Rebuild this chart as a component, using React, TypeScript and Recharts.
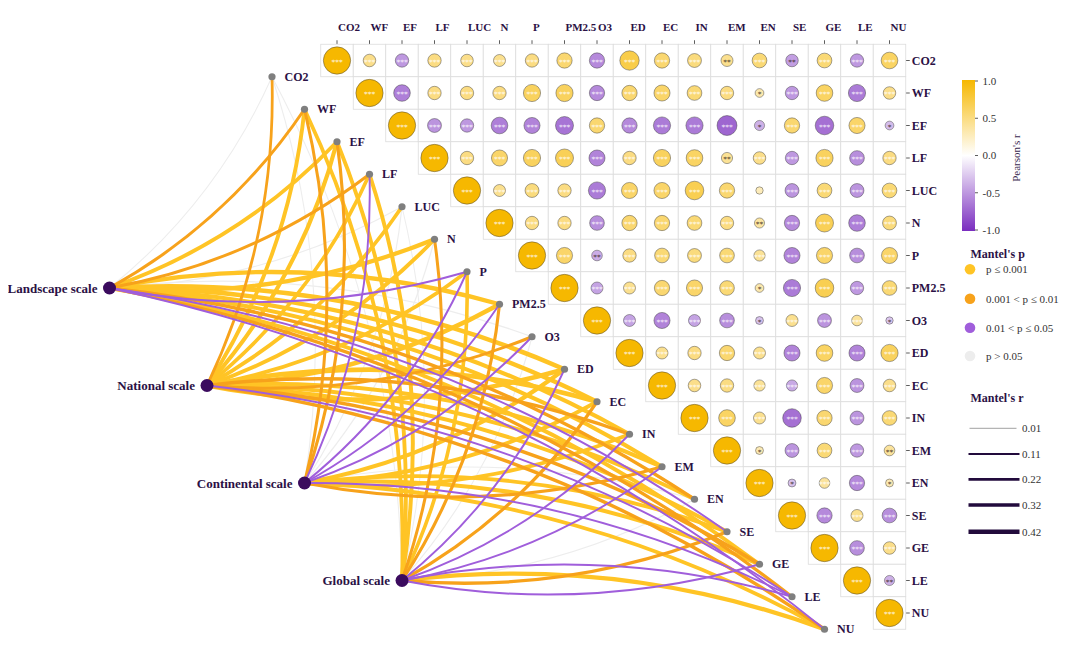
import React from "react";
import { ScatterChart, Scatter, XAxis, YAxis, Customized } from "recharts";

// ---- data ----
const VARS = ["CO2", "WF", "EF", "LF", "LUC", "N", "P", "PM2.5", "O3", "ED", "EC", "IN", "EM", "EN", "SE", "GE", "LE", "NU"];

// Pearson's r, upper triangle: row i holds columns i..17 (diagonal first)
const PEARSON_R: number[][] = [
  [1, 0.46, -0.49, 0.49, 0.46, 0.44, 0.49, 0.56, -0.56, 0.71, 0.56, 0.51, 0.44, 0.54, -0.46, 0.54, -0.49, 0.61],
  [1, -0.61, 0.49, 0.49, 0.49, 0.63, 0.63, -0.56, 0.56, 0.59, 0.54, 0.49, 0.32, -0.49, 0.61, -0.63, 0.46],
  [1, -0.51, -0.49, -0.61, -0.59, -0.66, 0.56, -0.56, -0.63, -0.63, -0.73, -0.37, 0.56, -0.68, 0.59, -0.32],
  [1, 0.49, 0.59, 0.63, 0.66, -0.59, 0.49, 0.63, 0.61, 0.41, 0.46, -0.49, 0.63, -0.54, 0.49],
  [1, 0.44, 0.51, 0.49, -0.63, 0.59, 0.59, 0.68, 0.56, 0.27, -0.51, 0.54, -0.51, 0.54],
  [1, 0.49, 0.49, -0.54, 0.56, 0.56, 0.54, 0.49, 0.37, -0.56, 0.66, -0.61, 0.51],
  [1, 0.59, -0.39, 0.49, 0.54, 0.51, 0.54, 0.41, -0.59, 0.59, -0.54, 0.59],
  [1, -0.44, 0.44, 0.56, 0.59, 0.54, 0.32, -0.63, 0.68, -0.49, 0.54],
  [1, -0.44, -0.59, -0.44, -0.54, -0.29, 0.44, -0.51, 0.39, -0.27],
  [1, 0.44, 0.49, 0.56, 0.44, -0.59, 0.61, -0.59, 0.63],
  [1, 0.46, 0.49, 0.41, -0.41, 0.59, -0.51, 0.46],
  [1, 0.61, 0.44, -0.68, 0.56, -0.51, 0.54],
  [1, 0.29, -0.51, 0.54, -0.49, 0.39],
  [1, -0.29, 0.39, -0.56, 0.29],
  [1, -0.56, 0.44, -0.54],
  [1, -0.54, 0.46],
  [1, -0.37],
  [1],
];

// cells whose significance is not "***": [row, col, stars]
const STAR_NOTES: [number, number, string][] = [
  [0, 12, "**"], [0, 14, "**"], [1, 13, "*"], [2, 13, "*"], [2, 17, "*"], [3, 12, "**"],
  [4, 13, ""], [5, 13, "**"], [6, 8, "**"], [7, 13, "*"], [8, 13, "*"], [8, 17, "*"],
  [12, 13, "*"], [12, 17, "**"], [13, 14, "*"], [13, 17, "*"], [16, 17, "**"],
];

const SCALES = ["Landscape scale", "National scale", "Continental scale", "Global scale"];

// Mantel's p class per target (0: p<=0.001, 1: <=0.01, 2: <=0.05, 3: >0.05)
const LANDSCAPE_P = [3, 1, 0, 1, 3, 0, 2, 0, 3, 0, 0, 0, 0, 1, 2, 0, 1, 2];
const NATIONAL_P = [1, 0, 0, 0, 0, 0, 0, 0, 1, 0, 0, 1, 0, 0, 0, 1, 2, 1];
const CONTINENTAL_P = [3, 1, 1, 2, 3, 3, 2, 2, 2, 0, 0, 0, 1, 3, 0, 0, 2, 0];
const GLOBAL_P = [3, 0, 0, 0, 3, 1, 0, 1, 3, 2, 1, 2, 2, 3, 1, 2, 2, 0];

// Mantel's r per target
const LANDSCAPE_R = [0.02, 0.25, 0.35, 0.25, 0.03, 0.38, 0.12, 0.4, 0.04, 0.42, 0.4, 0.38, 0.36, 0.3, 0.12, 0.35, 0.28, 0.12];
const NATIONAL_R = [0.22, 0.35, 0.38, 0.32, 0.35, 0.36, 0.34, 0.4, 0.25, 0.42, 0.45, 0.3, 0.38, 0.36, 0.36, 0.32, 0.12, 0.3];
const CONTINENTAL_R = [0.02, 0.25, 0.26, 0.12, 0.03, 0.04, 0.12, 0.12, 0.13, 0.38, 0.36, 0.35, 0.28, 0.03, 0.35, 0.38, 0.12, 0.34];
const GLOBAL_R = [0.02, 0.34, 0.35, 0.36, 0.02, 0.25, 0.32, 0.26, 0.03, 0.12, 0.27, 0.12, 0.12, 0.03, 0.28, 0.13, 0.12, 0.4];

const P_LABELS = ["p \u2264 0.001", "0.001 < p \u2264 0.01", "0.01 < p \u2264 0.05", "p > 0.05"];
const MANTEL_R_BREAKS = [0.01, 0.11, 0.22, 0.32, 0.42];
const COLORBAR_TICKS = [1, 0.5, 0, -0.5, -1];

// ---- layout ----
const CHART_W = 1064;
const CHART_H = 650;
const MARGIN = { top: 6.25, right: 106.25, bottom: 2.75, left: 4 };
const X_AXIS_H = 30;
const Y_AXIS_W = 60;
const X_DOMAIN: [number, number] = [-10, 17.5];
const Y_DOMAIN: [number, number] = [-0.5, 18.3];
const CELL = (CHART_W - MARGIN.left - MARGIN.right - Y_AXIS_W) / (X_DOMAIN[1] - X_DOMAIN[0]);
const MAX_RAD = CELL * 0.42;
const BEND = 0.12;
// scale nodes, in grid units
const SCALE_POS = [[-7, 7], [-4, 10], [-1, 13], [2, 16]];

const SERIF = "'Liberation Serif', 'Times New Roman', serif";
const INK = "#2B1145";
const P_COLORS = ["#FFC425", "#F7A21B", "#A05EDB", "#EDEDED"];
const POS = [246, 184, 0];
const NEG = [122, 45, 191];

function pearsonColor(r: number) {
  const t = Math.min(1, Math.abs(r));
  const c = r >= 0 ? POS : NEG;
  const ch = c.map((v) => Math.round(255 + (v - 255) * t));
  return `rgb(${ch[0]},${ch[1]},${ch[2]})`;
}
const widthFor = (r: number) => 0.9 + 8.5 * r;

// ---- derived tables ----
const starMap = new Map(STAR_NOTES.map(([i, j, s]) => [`${i}-${j}`, s]));
const cells = PEARSON_R.flatMap((row, i) =>
  row.map((r, k) => {
    const j = i + k;
    const s = starMap.get(`${i}-${j}`);
    return { x: j, y: i, r, stars: s === undefined ? "***" : s };
  })
);
const endpoints = VARS.map((name, i) => ({ x: i - 2, y: i + 0.5, name }));
const sources = SCALES.map((name, k) => ({ x: SCALE_POS[k][0], y: SCALE_POS[k][1], name }));
const P_SETS = [LANDSCAPE_P, NATIONAL_P, CONTINENTAL_P, GLOBAL_P];
const R_SETS = [LANDSCAPE_R, NATIONAL_R, CONTINENTAL_R, GLOBAL_R];
const DRAW_ORDER = [3, 0, 1, 2];
const links = P_SETS.flatMap((ps, k) =>
  ps.map((p, i) => ({ src: k, tgt: i, p, r: R_SETS[k][i] }))
).sort((a, b) => DRAW_ORDER.indexOf(a.p) - DRAW_ORDER.indexOf(b.p));

// ---- shapes ----
const Empty = () => <g />;

const CellBox = (props: any) => (
  <rect x={props.cx - CELL / 2} y={props.cy - CELL / 2} width={CELL} height={CELL}
    fill="#fff" stroke="#DCDCDC" strokeWidth={0.8} />
);

const CorrDot = (props: any) => {
  const { cx, cy, payload } = props;
  const rad = MAX_RAD * Math.abs(payload.r);
  const triple = payload.stars === "***";
  return (
    <g>
      <circle cx={cx} cy={cy} r={rad} fill={pearsonColor(payload.r)} stroke="#3a3a3a" strokeOpacity={0.75} strokeWidth={0.6} />
      {payload.stars && (
        <text x={cx} y={cy + 4.2} textAnchor="middle" fontSize={7.5} fontFamily="DejaVu Sans, sans-serif"
          fill={triple ? "#ffffff" : "#3A2A1A"} fillOpacity={0.9}>
          {payload.stars}
        </text>
      )}
    </g>
  );
};

const EndDot = (props: any) => (
  <g>
    <circle cx={props.cx} cy={props.cy} r={3.6} fill="#7F7F7F" />
    <text x={props.cx + 12.5} y={props.cy} dy="0.35em" fontSize={12} fontWeight="bold" fontFamily={SERIF} fill={INK}>
      {props.payload.name}
    </text>
  </g>
);

const SourceDot = (props: any) => (
  <g>
    <circle cx={props.cx} cy={props.cy} r={6.5} fill="#3B0B5E" />
    <text x={props.cx - 12} y={props.cy} dy="0.35em" textAnchor="end" fontSize={13} fontWeight="bold" fontFamily={SERIF} fill={INK}>
      {props.payload.name}
    </text>
  </g>
);

function curvePath(points: { x: number; y: number }[]) {
  const [a, b] = points;
  const dx = b.x - a.x;
  const dy = b.y - a.y;
  const len = Math.hypot(dx, dy);
  const side = dy > 0 ? 1 : -1;
  const nx = (side * dy) / len;
  const ny = (side * -dx) / len;
  const mx = (a.x + b.x) / 2 + nx * BEND * len;
  const my = (a.y + b.y) / 2 + ny * BEND * len;
  return `M${a.x},${a.y} Q${mx},${my} ${b.x},${b.y}`;
}

const makeLine = (color: string, w: number) => (lp: any) => (
  <path d={curvePath(lp.points)} fill="none" stroke={color} strokeWidth={w} strokeLinecap="round" />
);

const TopTick = (props: any) => (
  <text x={props.x + 1} y={props.y - 7} textAnchor="start" fontSize={11} fontWeight="bold" fontFamily={SERIF} fill={INK}>
    {VARS[props.payload.value]}
  </text>
);

const RightTick = (props: any) => (
  <text x={props.x} y={props.y} dy="0.35em" textAnchor="start" fontSize={12} fontWeight="bold" fontFamily={SERIF} fill={INK}>
    {VARS[props.payload.value]}
  </text>
);

// legend block, chart pixel coordinates
const LegendPanel = () => {
  const barX = 954, barY = 72, barW = 13, barH = 151;
  const yOf = (v: number) => barY + 1 + ((1 - v) / 2) * (barH - 2);
  const pY = [261.3, 290.7, 319.7, 348];
  const rY = [420.3, 446, 471.3, 497, 523.7];
  return (
    <g fontFamily={SERIF}>
      <defs>
        <linearGradient id="pearsonGrad" x1="0" y1="0" x2="0" y2="1">
          <stop offset="0%" stopColor={pearsonColor(1)} />
          <stop offset="50%" stopColor="#ffffff" />
          <stop offset="100%" stopColor={pearsonColor(-1)} />
        </linearGradient>
      </defs>
      <rect x={barX} y={barY} width={barW} height={barH} fill="url(#pearsonGrad)" />
      {COLORBAR_TICKS.map((v) => (
        <g key={v}>
          <line x1={barX + barW} x2={barX + barW + 3} y1={yOf(v)} y2={yOf(v)} stroke="#333" strokeWidth={0.8} />
          <text x={barX + barW + 7.5} y={yOf(v)} dy="0.35em" fontSize={11} fill="#333">{v.toFixed(1)}</text>
        </g>
      ))}
      <text x={1008} y={150} transform="rotate(-90 1008 150)" textAnchor="middle" dy="0.35em" fontSize={11} fill="#3a2a50">
        Pearson's r
      </text>

      <text x={962.5} y={250} fontSize={12} fontWeight="bold" fill={INK}>Mantel's p</text>
      {P_LABELS.map((lab, k) => (
        <g key={lab}>
          <circle cx={962} cy={pY[k]} r={5.3} fill={P_COLORS[k]} />
          <text x={978} y={pY[k]} dy="0.35em" fontSize={11} fill="#333">{lab}</text>
        </g>
      ))}

      <text x={962.5} y={394} fontSize={12} fontWeight="bold" fill={INK}>Mantel's r</text>
      {MANTEL_R_BREAKS.map((v, k) => (
        <g key={v}>
          <line x1={k === 0 ? 961.5 : 960.5} x2={k === 0 ? 1008.5 : 1011.5} y1={rY[k]} y2={rY[k]}
            stroke={k === 0 ? "#A0A0A0" : "#220B3C"} strokeWidth={widthFor(v)} />
          <text x={1014} y={rY[k]} dy="0.35em" fontSize={11} fill="#333">{v.toFixed(2)}</text>
        </g>
      ))}
    </g>
  );
};

export default function App() {
  return (
    <ScatterChart width={CHART_W} height={CHART_H} margin={MARGIN}>
      <XAxis type="number" dataKey="x" orientation="top" domain={X_DOMAIN} ticks={VARS.map((_, i) => i)}
        height={X_AXIS_H} axisLine={false} tickSize={4} tickLine={{ stroke: "#333", strokeWidth: 0.8 }}
        tick={<TopTick />} interval={0} />
      <YAxis type="number" dataKey="y" orientation="right" domain={Y_DOMAIN} reversed ticks={VARS.map((_, i) => i)}
        width={Y_AXIS_W} axisLine={false} tickSize={4} tickLine={{ stroke: "#333", strokeWidth: 0.8 }}
        tick={<RightTick />} interval={0} />

      <Scatter data={cells} shape={CellBox} isAnimationActive={false} />

      {links.map((l) => (
        <Scatter key={`${l.src}-${l.tgt}`}
          data={[sources[l.src], endpoints[l.tgt]]}
          line={makeLine(P_COLORS[l.p], widthFor(l.r))}
          shape={Empty} isAnimationActive={false} />
      ))}

      <Scatter data={cells} shape={CorrDot} isAnimationActive={false} />
      <Scatter data={endpoints} shape={EndDot} isAnimationActive={false} />
      <Scatter data={sources} shape={SourceDot} isAnimationActive={false} />
      <Customized component={<LegendPanel />} />
    </ScatterChart>
  );
}
